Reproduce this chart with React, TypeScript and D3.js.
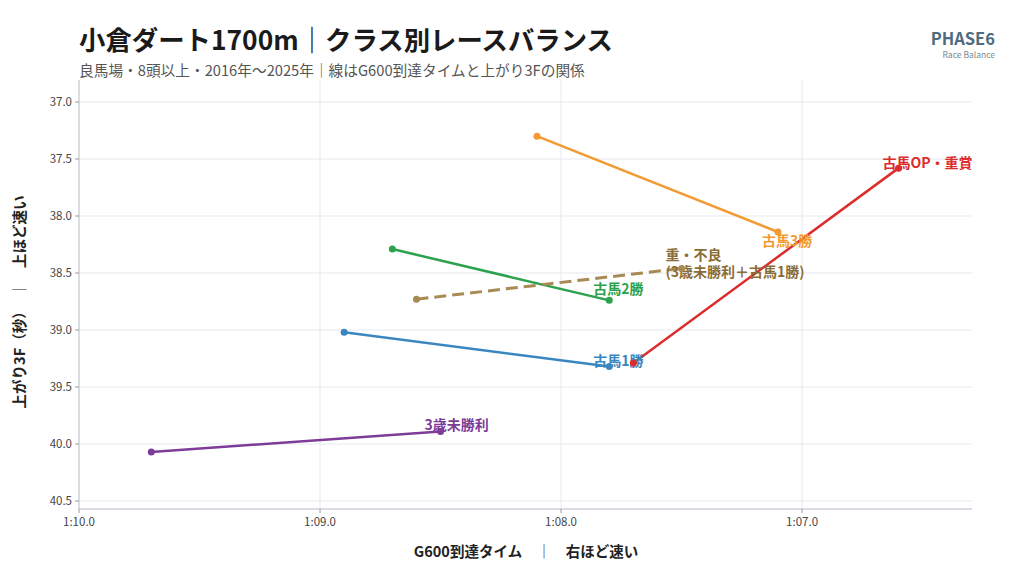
import React from "react";
import * as d3 from "d3";

// クラス別 G600到達タイム(秒) と 上がり3F(秒)
const classes = ["3歳未勝利", "古馬1勝", "古馬2勝", "古馬3勝", "古馬OP・重賞", "重・不良"];
const g600From = [69.7, 68.9, 68.7, 68.1, 67.7, 68.6];
const g600To = [68.5, 67.8, 67.8, 67.1, 66.6, 67.5];
const last3fFrom = [40.07, 39.02, 38.29, 37.3, 39.29, 38.73];
const last3fTo = [39.89, 39.32, 38.74, 38.14, 37.58, 38.46];

const xTicks = [70, 69, 68, 67];
const yTicks = [37.0, 37.5, 38.0, 38.5, 39.0, 39.5, 40.0, 40.5];

const lineColors = ["#7d3c98", "#3a87c0", "#2ca24c", "#f39a32", "#dc2c2c", "#a88a55"];
const labelColors = ["#7d3c98", "#3a87c0", "#2ca24c", "#f39a32", "#dc2c2c", "#8a6d36"];
const labelDy = [-6, -5, -11, 9, -5, 4];

const W = 1024;
const H = 581;
const M = { left: 79, right: 972, top: 80, bottom: 509 };
const FONT = "'Noto Sans CJK JP', 'Noto Sans', sans-serif";

const fmtTime = (t: number) => {
  const m = Math.floor(t / 60);
  const s = t - m * 60;
  return `${m}:${s < 10 ? "0" : ""}${s.toFixed(1)}`;
};

export default function App() {
  const x = d3.scaleLinear().domain([70.0, 66.295]).range([M.left, M.right]);
  const y = d3.scaleLinear().domain([36.807, 40.57]).range([M.top, M.bottom]);
  const line = d3
    .line<[number, number]>()
    .x((d) => x(d[0]))
    .y((d) => y(d[1]));

  const series = classes.map((c, i) => ({
    name: c,
    i,
    pts: [
      [g600From[i], last3fFrom[i]],
      [g600To[i], last3fTo[i]],
    ] as [number, number][],
  }));

  return (
    <svg
      width={W}
      height={H}
      style={{ position: "absolute", left: 0, top: 0, background: "#fff", fontFamily: FONT }}
    >
      <rect width={W} height={H} fill="#fff" />
      {/* title */}
      <text x={79} y={50} fontSize={26.4} fontWeight={700} fill="#1a1a1a">
        小倉ダート1700m｜クラス別レースバランス
      </text>
      <text x={79} y={76} fontSize={14.7} fill="#555">
        良馬場・8頭以上・2016年〜2025年｜線はG600到達タイムと上がり3Fの関係
      </text>
      <text x={995} y={45} textAnchor="end" fontSize={16.5} fontWeight={700} fill="#4e6b80">
        PHASE6
      </text>
      <text x={995} y={58} textAnchor="end" fontSize={8.5} fill="#7a8a96">
        Race Balance
      </text>

      {/* grid */}
      {xTicks.slice(1).map((t) => (
        <line key={"gx" + t} x1={x(t)} x2={x(t)} y1={M.top} y2={M.bottom} stroke="#e6e9ef" strokeWidth={1} />
      ))}
      {yTicks.map((t) => (
        <line key={"gy" + t} x1={M.left} x2={M.right} y1={y(t)} y2={y(t)} stroke="#e6e9ef" strokeWidth={1} />
      ))}

      {/* spines */}
      <line x1={M.left} x2={M.left} y1={M.top} y2={M.bottom} stroke="#cdd1d8" strokeWidth={1.5} />
      <line x1={M.left} x2={M.right} y1={M.bottom} y2={M.bottom} stroke="#cdd1d8" strokeWidth={1.5} />

      {/* y ticks */}
      {yTicks.map((t) => (
        <g key={"ty" + t}>
          <line x1={M.left - 4} x2={M.left} y1={y(t)} y2={y(t)} stroke="#999" />
          <text x={M.left - 7} y={y(t)} dy="0.35em" textAnchor="end" fontSize={11.5} fill="#444">
            {t.toFixed(1)}
          </text>
        </g>
      ))}
      {/* x ticks */}
      {xTicks.map((t) => (
        <g key={"tx" + t}>
          <line x1={x(t)} x2={x(t)} y1={M.bottom} y2={M.bottom + 4} stroke="#999" />
          <text x={x(t)} y={M.bottom + 17} textAnchor="middle" fontSize={11.5} fill="#444">
            {fmtTime(t)}
          </text>
        </g>
      ))}

      {/* axis titles */}
      <text x={526} y={557} textAnchor="middle" fontSize={14.5} fontWeight={700} fill="#222">
        G600到達タイム　│　右ほど速い
      </text>
      <text
        transform={`translate(25,302) rotate(-90)`}
        textAnchor="middle"
        fontSize={14.5}
        fontWeight={700}
        fill="#222"
      >
        上がり3F（秒）　│　上ほど速い
      </text>

      {/* class lines */}
      {series.map((s) => {
        const dashed = s.name === "重・不良";
        return (
          <path
            key={s.name}
            d={line(s.pts) ?? ""}
            fill="none"
            stroke={lineColors[s.i]}
            strokeWidth={dashed ? 3 : 2.5}
            strokeDasharray={dashed ? "12 6" : undefined}
          />
        );
      })}

      {/* labels */}
      {series.map((s) => {
        const lx = x(g600To[s.i]) - 16;
        const ly = y(last3fTo[s.i]) + labelDy[s.i];
        if (s.name === "重・不良") {
          return (
            <g key={"l" + s.name} fontSize={14} fontWeight={700} fill={labelColors[s.i]}>
              <text x={lx} y={ly - 17.5} dy="0.35em">
                重・不良
              </text>
              <text x={lx} y={ly} dy="0.35em">
                (3歳未勝利＋古馬1勝)
              </text>
            </g>
          );
        }
        return (
          <text key={"l" + s.name} x={lx} y={ly} dy="0.35em" fontSize={14} fontWeight={700} fill={labelColors[s.i]}>
            {s.name}
          </text>
        );
      })}

      {/* points */}
      {series.map((s) =>
        s.pts.map((p, j) => (
          <circle key={s.name + j} cx={x(p[0])} cy={y(p[1])} r={3.5} fill={lineColors[s.i]} />
        ))
      )}
    </svg>
  );
}
